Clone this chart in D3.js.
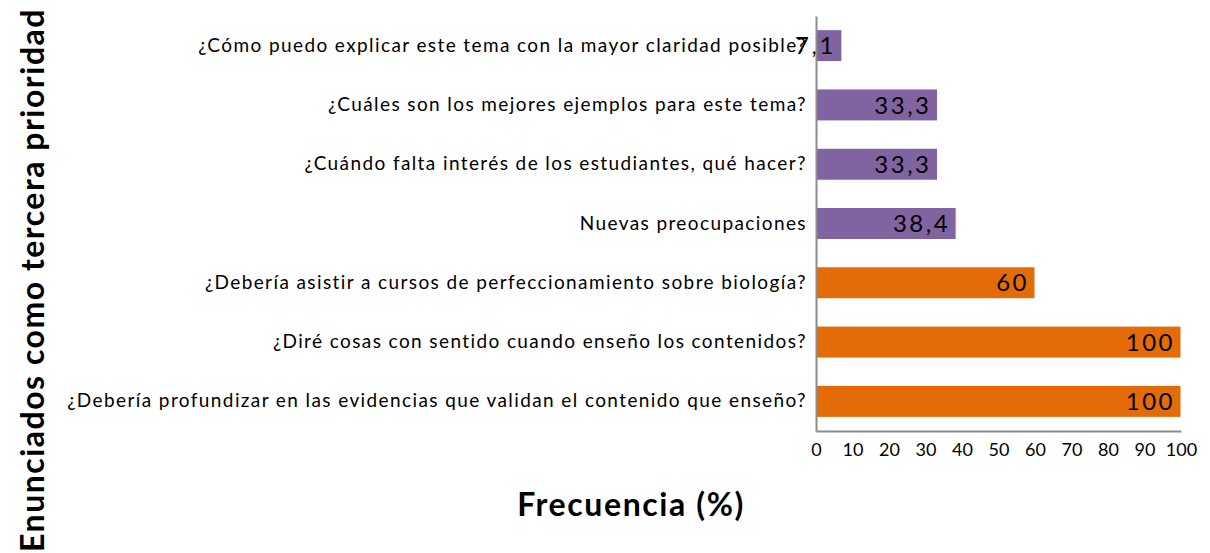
<!DOCTYPE html>
<html>
<head>
<meta charset="utf-8">
<script src="https://cdn.jsdelivr.net/npm/d3@7"></script>
<style>
  body { margin: 0; background: #fff; font-family: Lato, "Open Sans", sans-serif; }
  svg text { fill: #000; }
</style>
</head>
<body>
<svg id="chart" width="1210" height="553"></svg>
<script>
const categories = [
  "¿Cómo puedo explicar este tema con la mayor claridad posible?",
  "¿Cuáles son los mejores ejemplos para este tema?",
  "¿Cuándo falta interés de los estudiantes, qué hacer?",
  "Nuevas preocupaciones",
  "¿Debería asistir a cursos de perfeccionamiento sobre biología?",
  "¿Diré cosas con sentido cuando enseño los contenidos?",
  "¿Debería profundizar en las evidencias que validan el contenido que enseño?"
];
const values = [7.1, 33.3, 33.3, 38.4, 60, 100, 100];
const labels = ["7,1", "33,3", "33,3", "38,4", "60", "100", "100"];
const groups = ["a", "a", "a", "a", "b", "b", "b"];
const ticks = [0, 10, 20, 30, 40, 50, 60, 70, 80, 90, 100];

const svg = d3.select("#chart");
const margin = { left: 816, right: 29, top: 16, bottom: 122 };
const width = +svg.attr("width"), height = +svg.attr("height");

const x = d3.scaleLinear().domain([0, 100]).range([margin.left, width - margin.right]);
const y = d3.scaleBand().domain(categories).range([margin.top, height - margin.bottom]).paddingInner(0.46).paddingOuter(0.23);
const color = d3.scaleOrdinal().domain(["a", "b"]).range(["#8064A2", "#E36C09"]);

const data = categories.map((c, i) => ({ cat: c, value: values[i], label: labels[i], group: groups[i] }));

svg.selectAll("rect.bar")
  .data(data)
  .enter()
  .append("rect")
  .attr("class", "bar")
  .attr("x", x(0))
  .attr("y", d => y(d.cat))
  .attr("width", d => x(d.value) - x(0))
  .attr("height", y.bandwidth())
  .attr("fill", d => color(d.group))
  .attr("stroke", "#fff")
  .attr("stroke-width", 1);

// value labels (the 7,1 one runs past the axis, as in the original)
svg.selectAll("text.val")
  .data(data)
  .enter()
  .append("text")
  .attr("class", "val")
  .attr("x", d => x(d.value) - 6)
  .attr("y", d => y(d.cat) + y.bandwidth() / 2)
  .attr("dy", "0.36em")
  .attr("text-anchor", "end")
  .style("font-size", "24px")
  .style("letter-spacing", "2.5px")
  .text(d => d.label);

// x axis
const xAxis = svg.append("g")
  .attr("transform", "translate(0," + (height - margin.bottom) + ")")
  .call(d3.axisBottom(x).tickValues(ticks).tickSize(0).tickPadding(12));
xAxis.select(".domain").attr("stroke", "#8c8c8c").attr("stroke-width", 2);
xAxis.selectAll("text").style("font-size", "18px").style("font-family", "Lato");

// y axis
const yAxis = svg.append("g")
  .attr("transform", "translate(" + margin.left + ",0)")
  .call(d3.axisLeft(y).tickSize(0).tickPadding(9));
yAxis.select(".domain").attr("stroke", "#8c8c8c").attr("stroke-width", 2);
yAxis.selectAll("text")
  .style("font-size", "19px")
  .style("letter-spacing", "1.4px")
  .style("font-family", "Lato");

// titles
svg.append("text")
  .attr("x", 631)
  .attr("y", 516)
  .attr("text-anchor", "middle")
  .style("font-size", "32px")
  .style("font-weight", "bold")
  .style("letter-spacing", "1.6px")
  .text("Frecuencia (%)");

svg.append("text")
  .attr("transform", "translate(44,280) rotate(-90)")
  .attr("text-anchor", "middle")
  .style("font-size", "32px")
  .style("font-weight", "bold")
  .style("letter-spacing", "1.5px")
  .text("Enunciados como tercera prioridad");
</script>
</body>
</html>
